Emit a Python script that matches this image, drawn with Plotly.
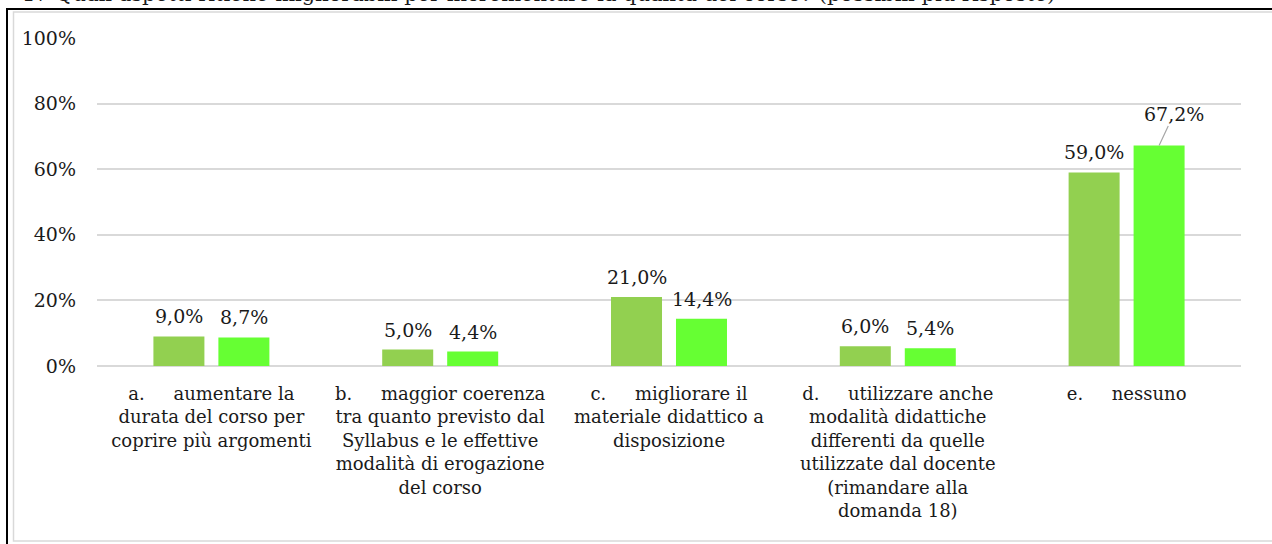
import plotly.graph_objects as go

# ---- data ----
categories = ["a", "b", "c", "d", "e"]
category_labels = [
    "a.&nbsp;&nbsp;&nbsp;&nbsp;&nbsp;aumentare la<br>durata del corso per<br>coprire più argomenti",
    "b.&nbsp;&nbsp;&nbsp;&nbsp;&nbsp;maggior coerenza<br>tra quanto previsto dal<br>Syllabus e le effettive<br>modalità di erogazione<br>del corso",
    "c.&nbsp;&nbsp;&nbsp;&nbsp;&nbsp;migliorare il<br>materiale didattico a<br>disposizione",
    "d.&nbsp;&nbsp;&nbsp;&nbsp;&nbsp;utilizzare anche<br>modalità didattiche<br>differenti da quelle<br>utilizzate dal docente<br>(rimandare alla<br>domanda 18)",
    "e.&nbsp;&nbsp;&nbsp;&nbsp;&nbsp;nessuno",
]
series1_values = [9.0, 5.0, 21.0, 6.0, 59.0]
series2_values = [8.7, 4.4, 14.4, 5.4, 67.2]
series_names = ["Serie 1", "Serie 2"]
series_colors = ["#92D050", "#66FF33"]
y_ticks = [0, 20, 40, 60, 80, 100]
title_text = "17 Quali aspetti ritiene migliorabili per incrementare la qualità del corso? (possibili più risposte)"

FONT = "DejaVu Serif"
TXT = "#1a1a1a"

W, H = 1272, 544
L, R, T, B = 97, 31, 38, 178
PW, PH = W - L - R, H - T - B


def px_x(px):
    return (px - L) / PW


def px_y(py):
    return (H - B - py) / PH


def fmt(v):
    return f"{v:.1f}%".replace(".", ",")


fig = go.Figure()
for name, vals, col in zip(series_names, [series1_values, series2_values], series_colors):
    fig.add_trace(go.Bar(x=categories, y=vals, name=name, marker=dict(color=col, line=dict(width=0)),
                         hoverinfo="skip"))

annotations = []
offset = 32.5
for si, vals in enumerate([series1_values, series2_values]):
    xs = -offset if si == 0 else offset
    for c, v in zip(categories, vals):
        if si == 1 and c == "e":
            annotations.append(dict(x=c, y=v, xref="x", yref="y", xshift=xs, text=fmt(v),
                                    showarrow=True, arrowhead=0, arrowwidth=1.2, arrowcolor="#a6a6a6",
                                    ax=15, ay=-32, standoff=0,
                                    font=dict(family=FONT, size=19, color=TXT)))
        else:
            annotations.append(dict(x=c, y=v, xref="x", yref="y", xshift=xs, yshift=7,
                                    yanchor="bottom", text=fmt(v), showarrow=False,
                                    font=dict(family=FONT, size=19, color=TXT)))

annotations.append(dict(x=px_x(20), y=px_y(8), xref="paper", yref="paper", xanchor="left",
                        yanchor="bottom", text=title_text, showarrow=False,
                        font=dict(family=FONT, size=21, color=TXT)))

shapes = [
    dict(type="rect", xref="paper", yref="paper", x0=px_x(13.5), x1=px_x(1290), y0=px_y(12), y1=px_y(541),
         line=dict(color="#d9d9d9", width=1.5), layer="below"),
    dict(type="line", xref="paper", yref="paper", x0=px_x(6), x1=px_x(1290), y0=px_y(9), y1=px_y(9),
         line=dict(color="black", width=2)),
    dict(type="line", xref="paper", yref="paper", x0=px_x(7), x1=px_x(7), y0=px_y(8), y1=px_y(560),
         line=dict(color="black", width=2)),
]

fig.update_layout(
    width=W, height=H,
    margin=dict(l=L, r=R, t=T, b=B, pad=0),
    paper_bgcolor="white", plot_bgcolor="white",
    barmode="group", bargap=0.432, bargroupgap=0.215,
    showlegend=False,
    font=dict(family=FONT, color=TXT),
    annotations=annotations,
    shapes=shapes,
)
fig.update_xaxes(
    type="category", tickmode="array", tickvals=categories, ticktext=category_labels,
    tickfont=dict(family=FONT, size=18, color=TXT), showgrid=False, zeroline=False,
    showline=False, ticks="", ticklabelstandoff=15,
)
fig.update_yaxes(
    range=[0, 100], tickmode="array", tickvals=y_ticks, ticktext=[f"{t}%" for t in y_ticks],
    tickfont=dict(family=FONT, size=19, color=TXT), showgrid=True, gridcolor="#d9d9d9", gridwidth=1.5,
    zeroline=True, zerolinecolor="#d9d9d9", zerolinewidth=1.5, showline=False, ticks="",
    ticklabelstandoff=20,
)

fig.write_html("out.html", config={"displayModeBar": False},
               post_script="document.body.style.margin='0';document.body.style.overflow='hidden';")
